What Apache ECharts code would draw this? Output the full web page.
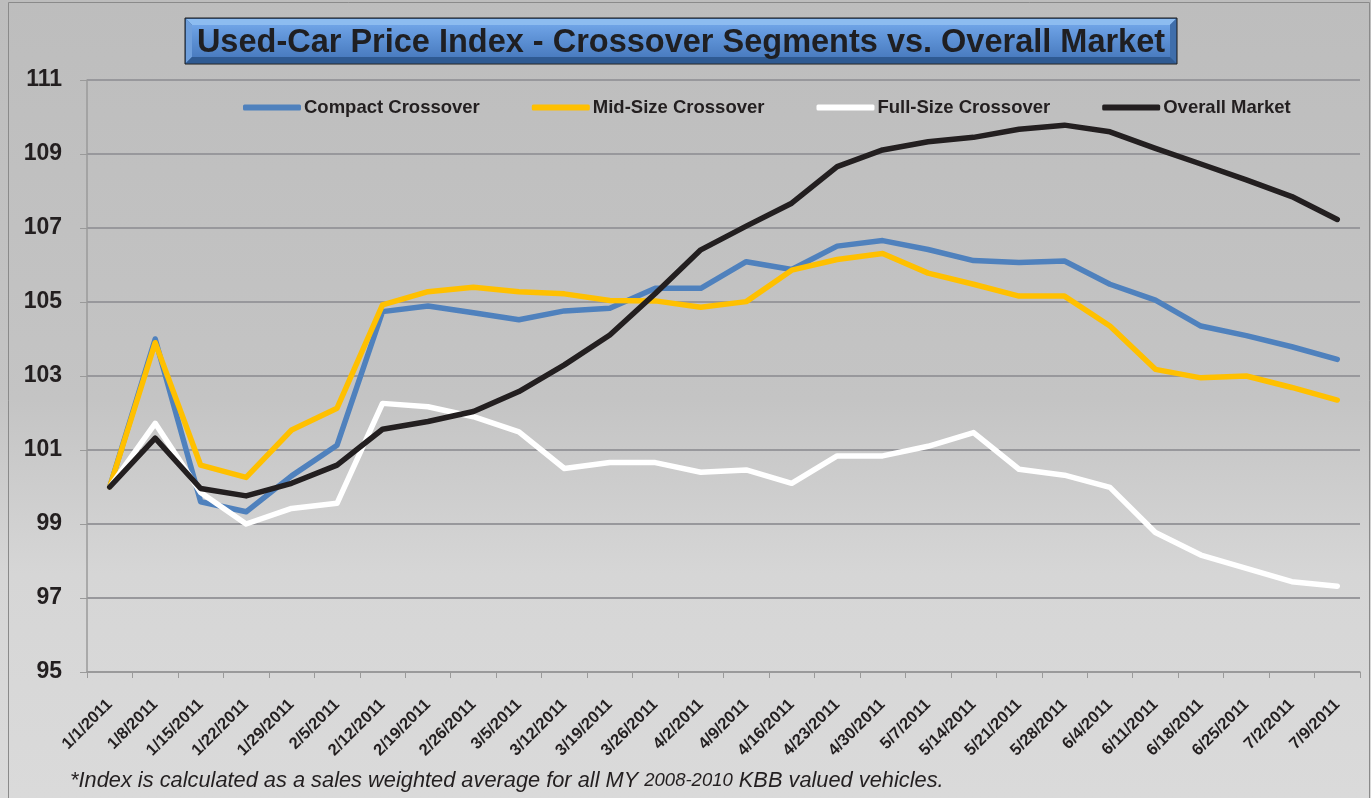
<!DOCTYPE html>
<html><head><meta charset="utf-8">
<script src="https://cdn.jsdelivr.net/npm/echarts@6/dist/echarts.min.js"></script>
<style>html,body{margin:0;padding:0;background:#c6c6c6}#c{width:1371px;height:798px}</style>
</head><body><div id="c"></div>
<script>
const categories = ['1/1/2011','1/8/2011','1/15/2011','1/22/2011','1/29/2011','2/5/2011','2/12/2011','2/19/2011','2/26/2011','3/5/2011','3/12/2011','3/19/2011','3/26/2011','4/2/2011','4/9/2011','4/16/2011','4/23/2011','4/30/2011','5/7/2011','5/14/2011','5/21/2011','5/28/2011','6/4/2011','6/11/2011','6/18/2011','6/25/2011','7/2/2011','7/9/2011'];
const compact = [100.0,104.0,99.6,99.33,100.3,101.13,104.74,104.89,104.71,104.52,104.76,104.83,105.37,105.37,106.09,105.88,106.51,106.66,106.42,106.12,106.07,106.11,105.48,105.05,104.35,104.09,103.79,103.45];
const midSize = [100.0,103.9,100.59,100.26,101.54,102.13,104.92,105.28,105.40,105.28,105.22,105.04,105.03,104.86,105.01,105.86,106.15,106.31,105.78,105.48,105.16,105.16,104.35,103.18,102.95,103.0,102.69,102.35];
const fullSize = [100.0,101.72,99.85,99.0,99.42,99.56,102.26,102.17,101.9,101.49,100.5,100.66,100.66,100.4,100.46,100.1,100.84,100.84,101.1,101.47,100.48,100.32,99.99,98.77,98.16,97.8,97.44,97.32];
const overall = [100.0,101.32,99.96,99.76,100.1,100.59,101.56,101.77,102.04,102.58,103.3,104.11,105.23,106.41,107.05,107.67,108.66,109.11,109.33,109.45,109.67,109.78,109.6,109.15,108.73,108.3,107.85,107.23];
const seriesNames = ['Compact Crossover','Mid-Size Crossover','Full-Size Crossover','Overall Market'];
const seriesColors = ['#4f81bd','#ffc000','#ffffff','#231f20'];
const yTicks = [95,97,99,101,103,105,107,109,111];
const titleText = 'Used-Car Price Index - Crossover Segments vs. Overall Market';

const chart = echarts.init(document.getElementById('c'), null, {renderer:'canvas'});
const data = [compact, midSize, fullSize, overall];
const bgGrad = new echarts.graphic.LinearGradient(0,0,0,1,[{offset:0,color:'#bdbdbd'},{offset:0.5,color:'#c4c4c4'},{offset:0.72,color:'#d6d6d6'},{offset:1,color:'#dadada'}]);
chart.setOption({
  animation:false,
  backgroundColor: bgGrad,
  grid:{left:87,right:11,top:80,bottom:126,containLabel:false},
  legend:{
    top:93,left:238,itemGap:52,itemWidth:58,itemHeight:6,icon:'roundRect',
    textStyle:{fontFamily:'Liberation Sans, Arial, sans-serif',fontWeight:'bold',fontSize:18.5,color:'#231f20',padding:[0,0,0,-2]},
    data: seriesNames
  },
  xAxis:{
    type:'category',data:categories,boundaryGap:true,
    axisLine:{lineStyle:{color:'#9a9a9a',width:1.5}},
    axisTick:{show:true,length:6,lineStyle:{color:'#9a9a9a'}},
    axisLabel:{rotate:45,interval:0,margin:30,fontFamily:'Liberation Sans, Arial, sans-serif',fontWeight:'bold',fontSize:16.5,color:'#231f20'}
  },
  yAxis:{
    type:'value',min:95,max:111,interval:2,
    axisLine:{show:true,lineStyle:{color:'#9a9a9a',width:1.5}},
    axisTick:{show:true,length:7,lineStyle:{color:'#9a9a9a'}},
    axisLabel:{margin:25,fontFamily:'Liberation Sans, Arial, sans-serif',fontWeight:'bold',fontSize:23,color:'#231f20',
      formatter:function(v){return yTicks.indexOf(v)>=0?String(v):'';}},
    splitLine:{show:true,lineStyle:{color:'#98989c',width:2}}
  },
  series: seriesNames.map((n,i)=>({
    name:n,type:'line',data:data[i],symbol:'none',smooth:false,
    lineStyle:{color:seriesColors[i],width:5.5,cap:'round',join:'round'},
    itemStyle:{color:seriesColors[i]},
    z:2+i
  })),
  graphic:[
    {type:'rect',left:6,top:0,shape:{width:1361,height:797},style:{fill:'none',stroke:'#8a8a8a',lineWidth:1},silent:true,z:-1},
    {type:'rect',shape:{x:185,y:18,width:992,height:46},style:{fill:'#3c6aa6',stroke:'#1a1a1a',lineWidth:1},z:10},
    {type:'polygon',shape:{points:[[186,19],[1176,19],[1170,25],[192,25]]},style:{fill:'#8dbcf0'},z:11},
    {type:'polygon',shape:{points:[[186,19],[192,25],[192,57],[186,63]]},style:{fill:'#6f9fdc'},z:11},
    {type:'polygon',shape:{points:[[1176,19],[1176,63],[1170,57],[1170,25]]},style:{fill:'#3f6eab'},z:11},
    {type:'polygon',shape:{points:[[186,63],[192,57],[1170,57],[1176,63]]},style:{fill:'#2f5a92'},z:11},
    {type:'rect',shape:{x:192,y:25,width:978,height:32},
      style:{fill:new echarts.graphic.LinearGradient(0,0,0,1,[{offset:0,color:'#6fa3e6'},{offset:0.5,color:'#5b8fd3'},{offset:1,color:'#4a7cc0'}])},z:11},
    {type:'text',x:681,y:43,style:{text:titleText,fill:'#1f1f22',font:'bold 32.5px "Liberation Sans", Arial, sans-serif',textAlign:'center',textVerticalAlign:'middle'},z:12},
    {type:'text',x:70,y:781,style:{
      text:'{a|*Index is calculated as a sales weighted average for all MY }{b|2008-2010}{a| KBB valued vehicles.}',
      rich:{a:{fontFamily:'"Liberation Sans",Arial',fontStyle:'italic',fontSize:21.8,fill:'#231f20'},
            b:{fontFamily:'"Liberation Sans",Arial',fontStyle:'italic',fontSize:18.5,fill:'#231f20'}},
      textVerticalAlign:'middle'},z:12}
  ]
});
</script></body></html>
